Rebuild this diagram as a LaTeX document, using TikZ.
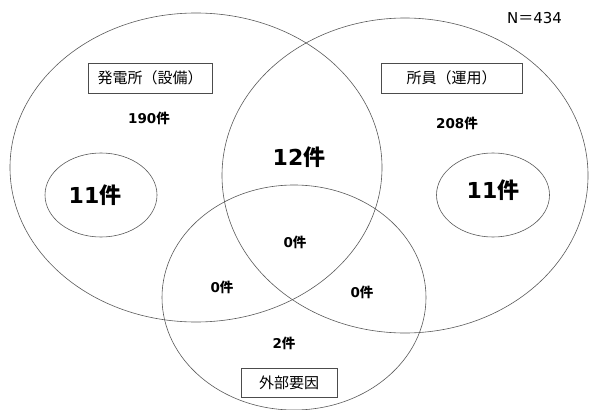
\documentclass[tikz,border=0pt]{standalone}
\usepackage{fontspec}
\setmainfont{Noto Sans CJK JP}
\newfontfamily\dig{DejaVu Sans}
\usetikzlibrary{shapes.geometric}
\begin{document}
\begin{tikzpicture}[x=1pt,y=-1pt,
  ring/.style={ellipse,draw=black!65,line width=0.6pt,inner sep=0pt},
  lbl/.style={draw=black!70,line width=0.7pt,fill=white,font=\fontsize{15}{15}\selectfont,inner sep=0pt},
  cnt/.style={font=\fontsize{13.5}{13.5}\selectfont\bfseries},
  big/.style={font=\fontsize{22}{22}\selectfont\bfseries}]
\useasboundingbox (0,0) rectangle (593,409);
\node[ring,minimum width=372pt,minimum height=309pt] (A) at (196,167.5) {};
\node[ring,minimum width=366pt,minimum height=315pt] (B) at (405,175.5) {};
\node[ring,minimum width=264pt,minimum height=225pt] (C) at (294,297.5) {};
\node[ring,minimum width=112pt,minimum height=84pt] (a1) at (101,195) {};
\node[ring,minimum width=113pt,minimum height=84pt] (b1) at (493,195) {};
\node[lbl,minimum width=124pt,minimum height=30pt] (la) at (150,78) {発電所（設備）};
\node[lbl,minimum width=141pt,minimum height=30pt] (lb) at (451.5,78) {所員（運用）};
\node[lbl,minimum width=96pt,minimum height=29pt] (lc) at (289,382.5) {外部要因};
\node[cnt] (na) at (149,118) {{\dig 190}件};
\node[cnt] (nb) at (457,123) {{\dig 208}件};
\node[big] (nab) at (299,157) {{\dig 12}件};
\node[big] (na1) at (95,195) {{\dig 11}件};
\node[big] (nb1) at (493,190) {{\dig 11}件};
\node[cnt] (nabc) at (295,242) {{\dig 0}件};
\node[cnt] (nac) at (222,287) {{\dig 0}件};
\node[cnt] (nbc) at (362,292) {{\dig 0}件};
\node[cnt] (nc) at (284,343) {{\dig 2}件};
\node[font=\fontsize{15}{15}\selectfont] (N) at (534.5,18) {{\dig N}＝{\dig 434}};
\end{tikzpicture}
\end{document}
